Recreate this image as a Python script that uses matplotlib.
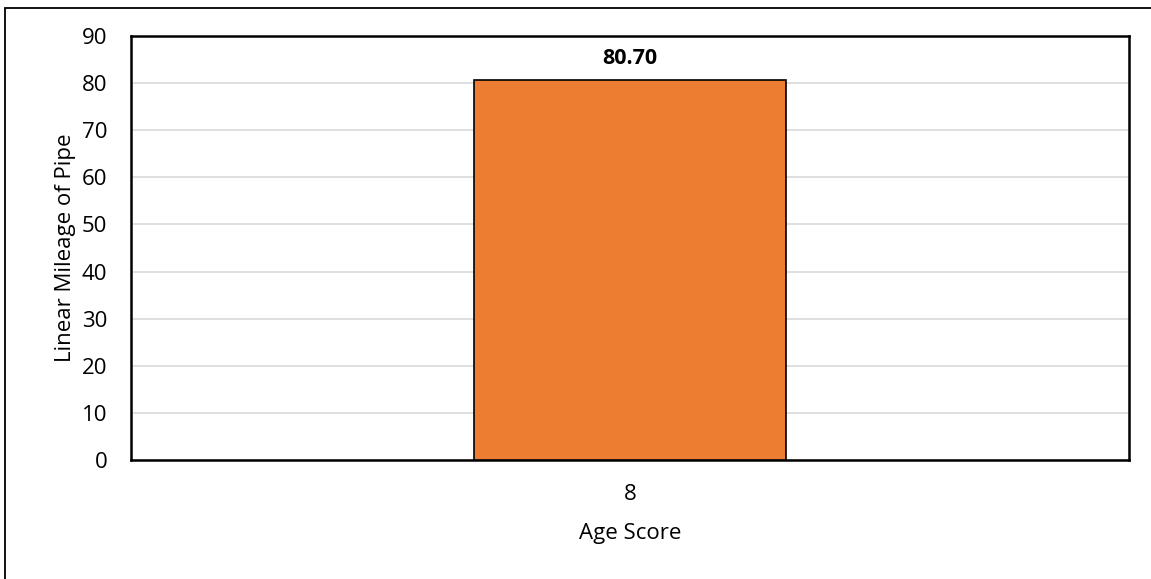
import matplotlib.pyplot as plt
from matplotlib.patches import Rectangle

plt.rcParams['font.family'] = ['Open Sans', 'DejaVu Sans']

categories = ['8']
mileage = [80.70]
y_ticks = [0, 10, 20, 30, 40, 50, 60, 70, 80, 90]

W, H = 1151, 579
fig = plt.figure(figsize=(W / 100, H / 100), dpi=100)

# chart frame (only top and left edges fall inside the image)
fig.patches.append(Rectangle((5 / W, -0.5), 2.0, 1.5 - 8 / H, transform=fig.transFigure,
                             fill=False, edgecolor='black', linewidth=1.3))

ax = fig.add_axes([131 / W, 1 - 460 / H, (1129 - 131) / W, (460 - 36) / H])
x = range(len(categories))
bars = ax.bar(x, mileage, width=0.3126, color='#ED7D31', edgecolor='black',
              linewidth=1.2, zorder=3)

for b, v in zip(bars, mileage):
    ax.annotate(f'{v:.2f}', (b.get_x() + b.get_width() / 2, v), xytext=(0, 8),
                textcoords='offset points', ha='center', va='bottom',
                fontsize=15.5, fontweight='bold')

ax.set_xlim(-0.5, 0.5)
ax.set_ylim(0, 90)
ax.set_yticks(y_ticks)
ax.set_xticks(list(x))
ax.set_xticklabels(categories)
ax.tick_params(axis='both', length=0, labelsize=16)
ax.tick_params(axis='y', pad=17)
ax.tick_params(axis='x', pad=17)
ax.yaxis.grid(True, color='#D9D9D9', linewidth=1.2, zorder=0)
ax.set_axisbelow(True)
for s in ax.spines.values():
    s.set_linewidth(1.8)
    s.set_color('black')

ax.set_xlabel('Age Score', fontsize=16, labelpad=13)
ax.set_ylabel('Linear Mileage of Pipe', fontsize=16, labelpad=4)

fig.savefig('out.png', dpi=100)
